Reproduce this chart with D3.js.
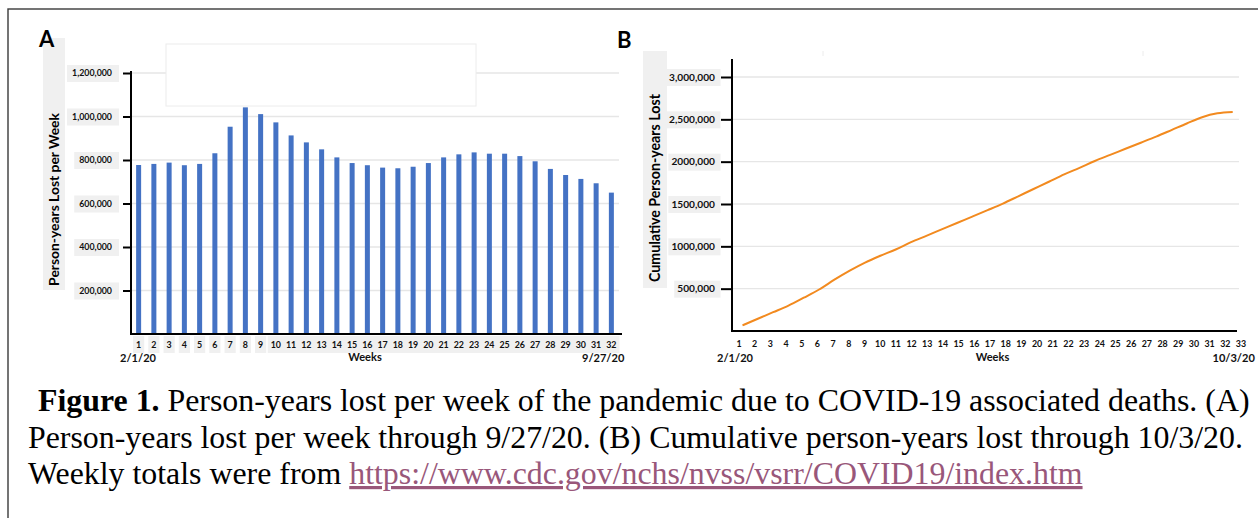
<!DOCTYPE html>
<html><head><meta charset="utf-8">
<script src="https://cdn.jsdelivr.net/npm/d3@7"></script>
<style>body{margin:0;background:#fff;} svg{display:block;}</style>
</head><body><svg id="c" width="1258" height="518"></svg>
<script>
// ---------- data ----------
const weeksA = ["1","2","3","4","5","6","7","8","9","10","11","12","13","14","15","16","17","18","19","20","21","22","23","24","25","26","27","28","29","30","31","32"];
const personYearsPerWeek = [777000,782000,788000,776000,782000,831000,953000,1042000,1011000,973000,913000,881000,849000,812000,786000,776000,765000,762000,769000,786000,812000,826000,835000,829000,829000,818000,794000,759000,731000,713000,693000,650000];
const weeksB = ["1","2","3","4","5","6","7","8","9","10","11","12","13","14","15","16","17","18","19","20","21","22","23","24","25","26","27","28","29","30","31","32","33"];
const cumulativePersonYears = [67000,145000,222000,300000,393000,490000,606000,713000,808000,889000,963000,1049000,1124000,1200000,1276000,1351000,1427000,1505000,1591000,1677000,1763000,1850000,1927000,2008000,2080000,2152000,2224000,2296000,2373000,2451000,2525000,2571000,2587000];
const yTicksA = [200000,400000,600000,800000,1000000,1200000];
const yTickLabelsA = ["200,000","400,000","600,000","800,000","1,000,000","1,200,000"];
const yTicksB = [500000,1000000,1500000,2000000,2500000,3000000];
const yTickLabelsB = ["500,000","1000,000","1500,000","2000,000","2,500,000","3,000,000"];

// ---------- setup ----------
const svg = d3.select("#c");
const FONT = "Lato, 'Open Sans', sans-serif";
const GRID = "#e6e6e6", BOX = "#f0f0f0";

// size a font so that a given sample string has a target width
function fitSize(sample, target, weight){
  const t = svg.append("text").attr("font-family",FONT).attr("font-weight",weight||700).attr("font-size",10).text(sample);
  const w = t.node().getComputedTextLength(); t.remove();
  return 10 * target / w;
}
const fsTickA = fitSize("1,200,000", 40);
const fsTickB = fitSize("3,000,000", 46);
const fsXA = fitSize("10", 10.3);
const fsXB = fitSize("13", 10.3);
const fsDate = fitSize("2/1/20", 36);
const fsTitleA = fitSize("Person-years Lost per Week", 173);
const fsTitleB = fitSize("Cumulative Person-years Lost", 188);

svg.append("rect").attr("x",8).attr("y",9).attr("width",1300).attr("height",560)
  .attr("fill","#fff").attr("stroke","#3a3a3a").attr("stroke-width",1.4);

// ================= Panel A =================
const xA = d3.scaleBand().domain(weeksA).range([131, 619]).paddingInner(0.672).paddingOuter(0.336);
const yA = d3.scaleLinear().domain([0, 1200000]).range([334, 73]);
const gA = svg.append("g");

// y title with box
const tA = gA.append("g");
tA.append("rect").attr("x",43).attr("y",38).attr("width",22).attr("height",252).attr("fill",BOX);
tA.append("text").attr("transform","translate(58.5,199.5) rotate(-90)")
  .attr("text-anchor","middle").attr("font-family",FONT).attr("font-weight",700).attr("font-size",fsTitleA)
  .text("Person-years Lost per Week");

gA.append("text").attr("x",39).attr("y",47).text("A")
  .attr("font-family",FONT).attr("font-weight",700).attr("font-size",22);

// gridlines
gA.selectAll("line.grid").data(yTicksA).join("line")
  .attr("x1",131).attr("x2",619).attr("y1",d=>yA(d)).attr("y2",d=>yA(d))
  .attr("stroke",GRID).attr("stroke-width",1.3);

// empty legend placeholder
gA.append("rect").attr("x",166).attr("y",44).attr("width",310).attr("height",62)
  .attr("fill","#fff").attr("stroke","#ececec").attr("stroke-width",1);

// bars
gA.selectAll("rect.bar").data(personYearsPerWeek).join("rect").attr("class","bar")
  .attr("x",(d,i)=>xA(weeksA[i])).attr("width",xA.bandwidth())
  .attr("y",d=>yA(d)).attr("height",d=>yA(0)-yA(d)).attr("fill","#4472c4");

// y axis
const axA = gA.append("g").attr("transform","translate(131,0)")
  .call(d3.axisLeft(yA).tickValues(yTicksA).tickFormat((d,i)=>yTickLabelsA[i]).tickSize(8).tickSizeOuter(0).tickPadding(11));
axA.select(".domain").remove();
axA.selectAll(".tick line").attr("stroke","#000").attr("stroke-width",2);
axA.selectAll(".tick text").attr("font-family",FONT).attr("font-weight",700).attr("font-size",fsTickA).attr("fill","#111");
axA.selectAll(".tick").each(function(){
  const t = d3.select(this); const b = t.select("text").node().getBBox();
  t.insert("rect","text").attr("x", -19 - b.width - 5).attr("y",-8.5).attr("width", b.width + 12).attr("height",17).attr("fill",BOX);
});
gA.append("line").attr("x1",131).attr("x2",131).attr("y1",71).attr("y2",335).attr("stroke","#000").attr("stroke-width",2);
gA.append("line").attr("x1",130).attr("x2",622).attr("y1",334).attr("y2",334).attr("stroke","#000").attr("stroke-width",2.2);

// x labels with boxes
const xlA = gA.append("g");
const xtA = xlA.selectAll("text").data(weeksA).join("text")
  .attr("x",d=>xA(d)+xA.bandwidth()/2).attr("y",348.3).attr("text-anchor","middle")
  .attr("font-family",FONT).attr("font-weight",700).attr("font-size",fsXA).attr("fill","#111").text(d=>d);
xtA.each(function(){
  const b = this.getBBox();
  xlA.insert("rect",":first-child").attr("x",b.x-3).attr("y",336).attr("width",b.width+6).attr("height",17).attr("fill",BOX);
});
const dA = gA.append("g").attr("font-family",FONT).attr("font-weight",700).attr("font-size",fsDate).attr("fill","#111");
dA.append("text").attr("x",138).attr("y",362).attr("text-anchor","middle").text("2/1/20");
dA.append("text").attr("x",365).attr("y",360.5).attr("text-anchor","middle").text("Weeks");
dA.append("text").attr("x",582).attr("y",362).attr("text-anchor","start").text("9/27/20");

// ================= Panel B =================
const xB = d3.scaleLinear().domain([1, 33]).range([742.5, 1232.7]);
const xBLabel = d3.scaleLinear().domain([1, 33]).range([739, 1241]);
const yB = d3.scaleLinear().domain([0, 3000000]).range([331, 77]);
const gB = svg.append("g");

const tB = gB.append("g");
tB.append("rect").attr("x",643).attr("y",51).attr("width",24).attr("height",237).attr("fill",BOX);
tB.append("text").attr("transform","translate(660,188) rotate(-90)")
  .attr("text-anchor","middle").attr("font-family",FONT).attr("font-weight",700).attr("font-size",fsTitleB)
  .text("Cumulative Person-years Lost");

gB.append("text").attr("x",617).attr("y",48).text("B")
  .attr("font-family",FONT).attr("font-weight",700).attr("font-size",22);

gB.selectAll("line.grid").data(yTicksB).join("line")
  .attr("x1",732).attr("x2",1239).attr("y1",d=>yB(d)).attr("y2",d=>yB(d))
  .attr("stroke",GRID).attr("stroke-width",1.3);

// nearly invisible empty placeholder (tiny marks only)
gB.append("line").attr("x1",823).attr("x2",823).attr("y1",51).attr("y2",56).attr("stroke","#ececec");
gB.append("line").attr("x1",1143).attr("x2",1143).attr("y1",51).attr("y2",56).attr("stroke","#ececec");

const axB = gB.append("g").attr("transform","translate(732,0)")
  .call(d3.axisLeft(yB).tickValues(yTicksB).tickFormat((d,i)=>yTickLabelsB[i]).tickSize(11).tickSizeOuter(0).tickPadding(6));
axB.select(".domain").remove();
axB.selectAll(".tick line").attr("stroke","#000").attr("stroke-width",2);
axB.selectAll(".tick text").attr("font-family",FONT).attr("font-weight",700).attr("font-size",fsTickB).attr("fill","#111");
axB.selectAll(".tick").each(function(){
  const t = d3.select(this); const b = t.select("text").node().getBBox();
  t.insert("rect","text").attr("x", -17 - b.width - 3).attr("y",-8.5).attr("width", b.width + 8.5).attr("height",17).attr("fill",BOX);
});
gB.append("line").attr("x1",732).attr("x2",732).attr("y1",59).attr("y2",332).attr("stroke","#000").attr("stroke-width",2);
gB.append("line").attr("x1",731).attr("x2",1237).attr("y1",331).attr("y2",331).attr("stroke","#000").attr("stroke-width",2.2);

gB.append("path").datum(cumulativePersonYears)
  .attr("d", d3.line().x((d,i)=>xB(i+1)).y(d=>yB(d)).curve(d3.curveMonotoneX))
  .attr("fill","none").attr("stroke","#f28a1f").attr("stroke-width",2);

gB.selectAll("text.xl").data(weeksB).join("text").attr("class","xl")
  .attr("x",d=>xBLabel(+d)).attr("y",347.3).attr("text-anchor","middle")
  .attr("font-family",FONT).attr("font-weight",700).attr("font-size",fsXB).attr("fill","#111").text(d=>d);
const dB = gB.append("g").attr("font-family",FONT).attr("font-weight",700).attr("font-size",fsDate).attr("fill","#111");
dB.append("text").attr("x",735).attr("y",362).attr("text-anchor","middle").text("2/1/20");
dB.append("text").attr("x",992.5).attr("y",360.5).attr("text-anchor","middle").text("Weeks");
dB.append("text").attr("x",1212.5).attr("y",362).attr("text-anchor","start").text("10/3/20");

// ================= Caption =================
const SERIF = "'Liberation Serif', 'Times New Roman', serif";
const cap = svg.append("g").attr("font-family",SERIF).attr("fill","#000");
const l1 = cap.append("text").attr("x",38).attr("y",411);
l1.append("tspan").attr("font-weight",700).text("Figure 1.");
l1.append("tspan").text(" Person-years lost per week of the pandemic due to COVID-19 associated deaths. (A)");
const l2 = cap.append("text").attr("x",28).attr("y",447.5).text("Person-years lost per week through 9/27/20. (B) Cumulative person-years lost through 10/3/20.");
const l3 = cap.append("text").attr("x",28).attr("y",484);
l3.append("tspan").text("Weekly totals were from ");
l3.append("tspan").attr("fill","#99577a").attr("text-decoration","underline").text("https://www.cdc.gov/nchs/nvss/vsrr/COVID19/index.htm");
cap.attr("font-size",29);
const w2 = l2.node().getComputedTextLength();
cap.attr("font-size", 29 * 1215 / w2);
</script></body></html>
